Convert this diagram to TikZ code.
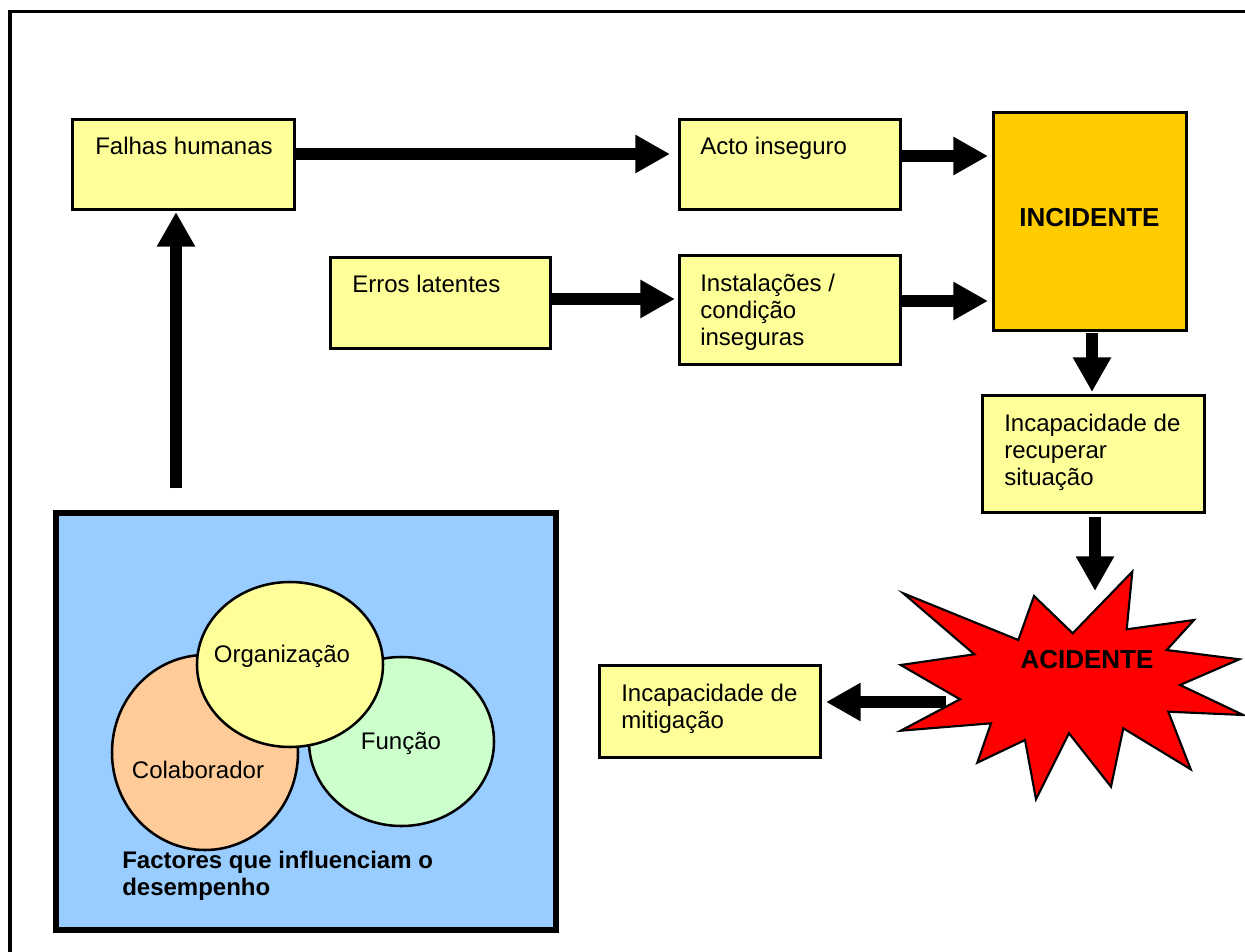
\documentclass[tikz,border=0pt]{standalone}
\usepackage{fontspec}
\setmainfont{Liberation Sans}
\usetikzlibrary{arrows.meta,shapes.geometric,calc}

\definecolor{boxyellow}{HTML}{FFFF99}
\definecolor{incorange}{HTML}{FFCC00}
\definecolor{panelblue}{HTML}{99CCFF}
\definecolor{peach}{HTML}{FFCC99}
\definecolor{mint}{HTML}{CCFFCC}
\definecolor{blastred}{HTML}{FF0000}

\tikzset{
  box/.style={draw=black, line width=2.25pt, fill=boxyellow, rectangle, outer sep=0pt, inner sep=0pt},
  txt/.style={font=\fontsize{18}{20.25}\selectfont, inner sep=0pt, anchor=base west, align=left},
  bigtxt/.style={font=\fontsize{19.5}{22}\selectfont\bfseries, inner sep=0pt},
  blob/.style={draw=black, line width=1.9pt, ellipse, outer sep=0pt, inner sep=0pt},
  blockarrow/.style={line width=9pt, -{Triangle[length=26pt,width=27pt]}},
}

\begin{document}
\begin{tikzpicture}[x=0.75pt,y=-0.75pt]
\useasboundingbox (0,0) rectangle (1245,952);
\clip (0,0) rectangle (1245,952);

% outer frame
\draw[line width=2.4pt] (10,11.5) rectangle (1400,1100);

% boxes
\node[box, minimum width=166.5pt, minimum height=67.5pt] (falhas) at (183,165) {};
\node[box, minimum width=165.75pt, minimum height=67.5pt] (acto) at (789.5,165) {};
\node[box, fill=incorange, minimum width=144.75pt, minimum height=162.75pt] (incid) at (1089.5,221.5) {};
\node[box, minimum width=165pt, minimum height=67.5pt] (erros) at (440,303) {};
\node[box, minimum width=165.75pt, minimum height=81pt] (instal) at (789.5,310) {};
\node[box, minimum width=166.5pt, minimum height=87.75pt] (recup) at (1093,453.5) {};
\node[box, minimum width=165.75pt, minimum height=69pt] (mitig) at (709.5,711) {};
\node[box, fill=panelblue, line width=4.5pt, minimum width=375pt, minimum height=312.75pt] (panel) at (306,721.5) {};

% box texts (multi-line texts are placed by their last baseline)
\node[txt] (falhas-t) at (95,155) {Falhas humanas};
\node[txt] (acto-t) at (700,155) {Acto inseguro};
\node[bigtxt] (incid-t) at (1089.5,218) {INCIDENTE};
\node[txt] (erros-t) at (352,292) {Erros latentes};
\node[txt] (instal-t) at (700,345) {Instalações /\\condição\\inseguras};
\node[txt] (recup-t) at (1004,485) {Incapacidade de\\recuperar\\situação};
\node[txt] (mitig-t) at (621,728) {Incapacidade de\\mitigação};

% overlapping factor ellipses
\node[blob, fill=peach, minimum width=139.5pt, minimum height=146.25pt] (colab) at (205,752.5) {};
\node[blob, fill=mint, minimum width=138.75pt, minimum height=126.75pt] (funcao) at (401.5,741.5) {};
\node[blob, fill=boxyellow, minimum width=139.5pt, minimum height=123.75pt] (organ) at (290,664.5) {};
\node[font=\fontsize{18}{20.25}\selectfont, inner sep=0pt] (colab-t) at (198,770) {Colaborador};
\node[font=\fontsize{18}{20.25}\selectfont, inner sep=0pt] (funcao-t) at (401,743) {Função};
\node[font=\fontsize{18}{20.25}\selectfont, inner sep=0pt] (organ-t) at (282,656) {Organização};
\node[txt, font=\fontsize{18}{20.25}\selectfont\bfseries] (panel-t) at (122,895) {Factores que influenciam o\\desempenho};

% explosion
\draw[line width=1.6pt, fill=blastred, line join=miter]
  (903.3,593.3) -- (1018.3,640) -- (1034,596) -- (1072.7,633.3) -- (1132.3,571.7)
  -- (1126.7,629.3) -- (1194,620) -- (1166.7,650) -- (1239.3,659.3) -- (1180,685)
  -- (1243.3,715) -- (1168.3,711.7) -- (1190.7,769.3) -- (1123.3,728.3) -- (1111,786.7)
  -- (1069,733.3) -- (1036,799.3) -- (1025,740) -- (977.3,762.7) -- (991,723.3)
  -- (900.7,730.7) -- (960,699.3) -- (900.7,665) -- (974.3,654.3) -- cycle;
\node[bigtxt] (acid-t) at (1087,660) {ACIDENTE};
\coordinate (acid-in) at (1095,591);
\coordinate (acid-out) at (946,702);

% arrow end points
\path (falhas.east) ++(2,-11) coordinate (a1s);
\path (a1s -| acto.west) ++(-9,0) coordinate (a1e);
\path (acto.east) ++(2,-9) coordinate (a2s);
\path (a2s -| incid.west) ++(-5,0) coordinate (a2e);
\path (erros.east) ++(2,-4) coordinate (a3s);
\path (a3s -| instal.west) ++(-4,0) coordinate (a3e);
\path (instal.east) ++(2,-9) coordinate (a4s);
\path (a4s -| incid.west) ++(-5,0) coordinate (a4e);
\path (incid.south) ++(2.5,3) coordinate (a5s);
\path (a5s |- recup.north) ++(0,-3) coordinate (a5e);
\path (recup.south) ++(2,5) coordinate (a6s);
\path (falhas.south) ++(-7,0) coordinate (upx);
\path (upx |- panel.north) ++(0,-25) coordinate (a8s);
\path (upx) ++(0,2) coordinate (a8e);
\path (acid-out -| mitig.east) ++(6,0) coordinate (a7e);

% connectors
\draw[blockarrow] (a1s) -- (a1e);
\draw[blockarrow] (a2s) -- (a2e);
\draw[blockarrow] (a3s) -- (a3e);
\draw[blockarrow] (a4s) -- (a4e);
\draw[blockarrow] (a5s) -- (a5e);
\draw[blockarrow] (a6s) -- (acid-in);
\draw[blockarrow] (acid-out) -- (a7e);
\draw[blockarrow] (a8s) -- (a8e);
\end{tikzpicture}
\end{document}
